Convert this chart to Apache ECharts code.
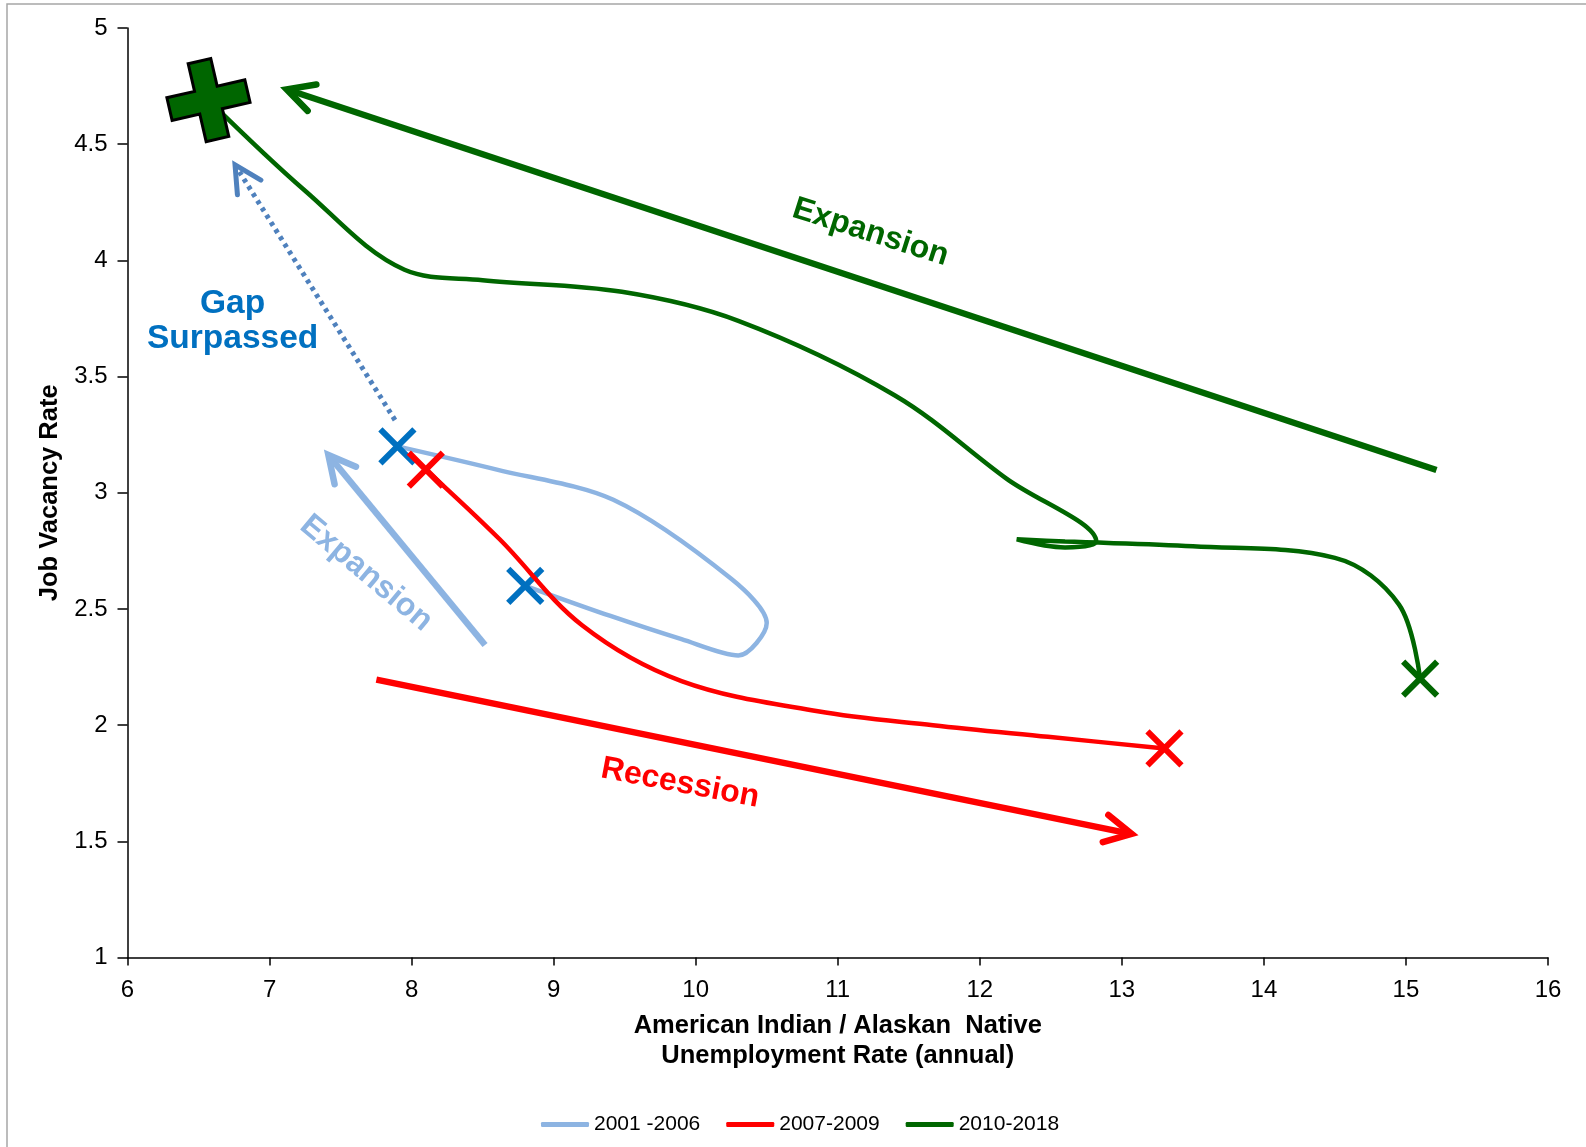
<!DOCTYPE html>
<html><head><meta charset="utf-8">
<script src="https://cdn.jsdelivr.net/npm/echarts@6/dist/echarts.min.js"></script>
<style>html,body{margin:0;padding:0;background:#fff}#c{width:1586px;height:1147px}</style>
</head><body><div id="c"></div>
<script>
// ---- data ----
const legendNames = ['2001 -2006', '2007-2009', '2010-2018'];
const s2001 = [[7.9,3.2],[8.6,3.1],[9.42,2.97],[10.25,2.63],[10.5,2.44],[10.3,2.3],[9.9,2.37],[9.4,2.47],[8.8,2.6]];
const s2007 = [[8.1,3.1],[8.62,2.8],[9.2,2.43],[9.9,2.19],[10.86,2.06],[11.67,2.0],[12.48,1.95],[13.3,1.9]];
const s2010 = [[15.1,2.2],[14.95,2.52],[14.5,2.72],[13.5,2.77],[12.6,2.79],[12.26,2.8],[12.6,2.765],[12.82,2.79],[12.19,3.06],[11.4,3.42],[10.3,3.74],[9.48,3.865],[8.5,3.915],[7.95,3.96],[7.25,4.3],[6.57,4.69]];
const blueMarks = [[7.9,3.2],[8.8,2.6]];
const redMarks = [[8.1,3.1],[13.3,1.9]];
const greenMarks = [[15.1,2.2]];
const greenPlus = [[6.57,4.69]];
// annotation arrows: [xTail, yTail, xTip, yTip]
const arrowGreen = [[15.215,3.098,7.121,4.736]];
const arrowRed = [[7.752,2.196,13.069,1.532]];
const arrowLight = [[8.517,2.345,7.414,3.163]];
const arrowGap = [[7.883,3.313,6.757,4.411]];
// annotation texts
const noteText = ['Expansion', 'Gap\nSurpassed', 'Expansion', 'Recession'];
const notePos = [[11.23,4.12],[6.74,3.736],[7.68,2.654],[9.89,1.75]];
const noteAngle = [-17.7, 0, -40, -10.7];
const xTitle = 'American Indian / Alaskan  Native\nUnemployment Rate (annual)';
const yTitle = 'Job Vacancy Rate';

const FONT = 'Liberation Sans, Arial, Helvetica, sans-serif';
const C_LIGHT = '#8DB4E2', C_RED = '#FF0000', C_GREEN = '#006600', C_BLUE = '#0070C0', C_DOT = '#4F81BD';
const noteColors = [C_GREEN, C_BLUE, C_LIGHT, C_RED];
const noteSizes = [32, 33.5, 32, 32];
const X_PATH = 'path://M0,0L100,100M100,0L0,100';
const PLUS_PATH = 'path://M35.5,0H64.5V35.5H100V64.5H64.5V100H35.5V64.5H0V35.5H35.5Z';

function arrowRender(color, width, dash) {
  return function (params, api) {
    const p1 = api.coord([api.value(0), api.value(1)]);
    const p2 = api.coord([api.value(2), api.value(3)]);
    const ang = Math.atan2(p2[1] - p1[1], p2[0] - p1[0]);
    const L = 30, a = 0.48;
    const h1 = [p2[0] - L * Math.cos(ang - a), p2[1] - L * Math.sin(ang - a)];
    const h2 = [p2[0] - L * Math.cos(ang + a), p2[1] - L * Math.sin(ang + a)];
    const end = [p2[0] - 2 * Math.cos(ang), p2[1] - 2 * Math.sin(ang)];
    return {
      type: 'group', children: [
        { type: 'line', shape: { x1: p1[0], y1: p1[1], x2: end[0], y2: end[1] },
          style: { stroke: color, lineWidth: width, lineDash: dash || null, lineCap: 'butt', fill: null } },
        { type: 'polyline', shape: { points: [h1, p2, h2] },
          style: { stroke: color, lineWidth: width, fill: null, lineJoin: 'miter', lineCap: 'round' } }
      ]
    };
  };
}
function arrowSeries(data, color, width, dash) {
  return { type: 'custom', coordinateSystem: 'cartesian2d', data: data,
    encode: { x: [0, 2], y: [1, 3] }, renderItem: arrowRender(color, width, dash), silent: true, z: 1 };
}

const chart = echarts.init(document.getElementById('c'), null, { renderer: 'canvas' });
chart.setOption({
  animation: false,
  backgroundColor: '#fff',
  textStyle: { fontFamily: FONT },
  graphic: [{ type: 'rect', shape: { x: 7, y: 4, width: 1620, height: 1200 },
    style: { fill: null, stroke: '#a6a6a6', lineWidth: 1.5 }, silent: true, z: -10 }],
  grid: { left: 127.5, right: 38, top: 28, bottom: 189.4 },
  legend: {
    data: legendNames, left: 536, top: 1109, icon: 'roundRect', itemWidth: 48, itemHeight: 5,
    itemGap: 26, textStyle: { fontSize: 21, color: '#000', fontFamily: FONT }
  },
  xAxis: {
    type: 'value', min: 6, max: 16, interval: 1,
    name: xTitle, nameLocation: 'middle', nameGap: 53,
    nameTextStyle: { fontSize: 25.5, fontWeight: 'bold', color: '#000', lineHeight: 30, fontFamily: FONT },
    axisLine: { lineStyle: { color: '#000', width: 1.5 } },
    axisTick: { length: 8, lineStyle: { color: '#000', width: 1.5 } },
    axisLabel: { fontSize: 24, color: '#000', margin: 21, fontFamily: FONT },
    splitLine: { show: false }
  },
  yAxis: {
    type: 'value', min: 1, max: 5, interval: 0.5,
    name: yTitle, nameLocation: 'middle', nameGap: 63,
    nameTextStyle: { fontSize: 25.5, fontWeight: 'bold', color: '#000', fontFamily: FONT },
    axisLine: { show: true, lineStyle: { color: '#000', width: 1.5 } },
    axisTick: { show: true, length: 10, lineStyle: { color: '#000', width: 1.5 } },
    axisLabel: { fontSize: 24, color: '#000', margin: 20, fontFamily: FONT },
    splitLine: { show: false }
  },
  series: [
    arrowSeries(arrowGreen, C_GREEN, 6.5),
    arrowSeries(arrowRed, C_RED, 6.5),
    arrowSeries(arrowLight, C_LIGHT, 6.5),
    arrowSeries(arrowGap, C_DOT, 5, [4, 4.5]),
    {
      type: 'custom', coordinateSystem: 'cartesian2d', data: notePos, encode: { x: 0, y: 1 }, silent: true, z: 2,
      renderItem: function (params, api) {
        const i = params.dataIndex;
        const p = api.coord([api.value(0), api.value(1)]);
        return { type: 'text', x: p[0], y: p[1], rotation: noteAngle[i] * Math.PI / 180,
          style: { text: noteText[i], fill: noteColors[i], fontSize: noteSizes[i], fontWeight: 'bold', fontFamily: FONT,
            align: 'center', verticalAlign: 'middle', lineHeight: 35 } };
      }
    },
    { name: legendNames[0], type: 'line', data: s2001, smooth: 0.3, showSymbol: false, color: C_LIGHT,
      lineStyle: { color: C_LIGHT, width: 4.5 }, z: 3 },
    { type: 'scatter', data: blueMarks, symbol: X_PATH, symbolSize: 34, symbolKeepAspect: true, z: 4,
      itemStyle: { color: 'rgba(0,0,0,0)', borderColor: C_BLUE, borderWidth: 6, opacity: 1 } },
    { name: legendNames[1], type: 'line', data: s2007, smooth: 0.35, showSymbol: false, color: C_RED,
      lineStyle: { color: C_RED, width: 4.5 }, z: 5 },
    { type: 'scatter', data: redMarks, symbol: X_PATH, symbolSize: 34, symbolKeepAspect: true, z: 6,
      itemStyle: { color: 'rgba(0,0,0,0)', borderColor: C_RED, borderWidth: 6, opacity: 1 } },
    { name: legendNames[2], type: 'line', data: s2010, smooth: 0.35, showSymbol: false, color: C_GREEN,
      lineStyle: { color: C_GREEN, width: 4.5 }, z: 5 },
    { type: 'scatter', data: greenMarks, symbol: X_PATH, symbolSize: 34, symbolKeepAspect: true, z: 6,
      itemStyle: { color: 'rgba(0,0,0,0)', borderColor: C_GREEN, borderWidth: 6, opacity: 1 } },
    { type: 'scatter', data: greenPlus, symbol: PLUS_PATH, symbolSize: 80, symbolRotate: 13, symbolKeepAspect: true, z: 7,
      itemStyle: { color: C_GREEN, borderColor: '#000', borderWidth: 3, opacity: 1 } }
  ]
});
</script>
</body></html>
